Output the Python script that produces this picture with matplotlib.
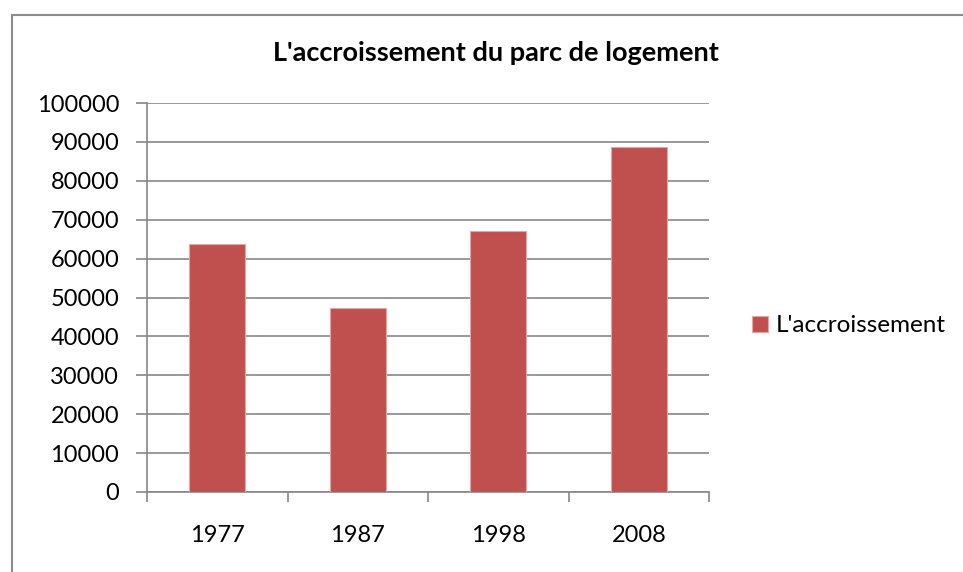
import matplotlib
matplotlib.use("Agg")
import matplotlib.pyplot as plt
from matplotlib.patches import Rectangle

years = ["1977", "1987", "1998", "2008"]
accroissement = [63700, 47400, 67100, 88800]
yticks = list(range(0, 100001, 10000))

plt.rcParams["font.family"] = ["Lato", "DejaVu Sans"]

W, H = 963, 572
fig = plt.figure(figsize=(W / 100, H / 100), dpi=100)

# outer chart frame (only top and left edges visible)
fig.add_artist(Rectangle((12 / W, -0.1), 1.1, 1.1 - 15 / H,
                         transform=fig.transFigure, fill=False,
                         edgecolor="#8c8c8c", linewidth=1.5))

ax = fig.add_axes([147 / W, 1 - 492 / H, (709 - 147) / W, (492 - 103) / H])

x = range(len(years))
ax.bar(x, accroissement, width=0.4, color="#C0504D", edgecolor="#E6A5A3",
       linewidth=0.8, label="L'accroissement", zorder=3)

ax.set_xlim(-0.5, len(years) - 0.5)
ax.set_ylim(0, 100000)
ax.set_yticks(yticks)
ax.set_yticklabels([str(v) for v in yticks], fontsize=17)
ax.set_xticks(list(x))
ax.set_xticklabels(years, fontsize=17)
ax.set_xticks([i - 0.5 for i in range(len(years) + 1)], minor=True)

ax.grid(axis="y", color="#878787", linewidth=1.2, zorder=0)
ax.tick_params(axis="x", which="major", length=0, pad=24)
ax.tick_params(axis="x", which="minor", length=7, color="#878787", width=1.2)
ax.tick_params(axis="y", length=8, color="#878787", width=1.2, pad=12)

for s in ["top", "right"]:
    ax.spines[s].set_visible(False)
for s in ["left", "bottom"]:
    ax.spines[s].set_color("#878787")
    ax.spines[s].set_linewidth(1.2)

fig.text(496 / W, 1 - 53 / H, "L'accroissement du parc de logement",
         ha="center", va="center", fontsize=19.5, fontweight="bold")

ax.legend(loc="center left", bbox_to_anchor=(730 / W, 1 - 326 / H),
          bbox_transform=fig.transFigure, frameon=False, fontsize=17.5,
          handlelength=0.65, handleheight=0.65, handletextpad=0.35)

fig.savefig("out.png", dpi=100)
